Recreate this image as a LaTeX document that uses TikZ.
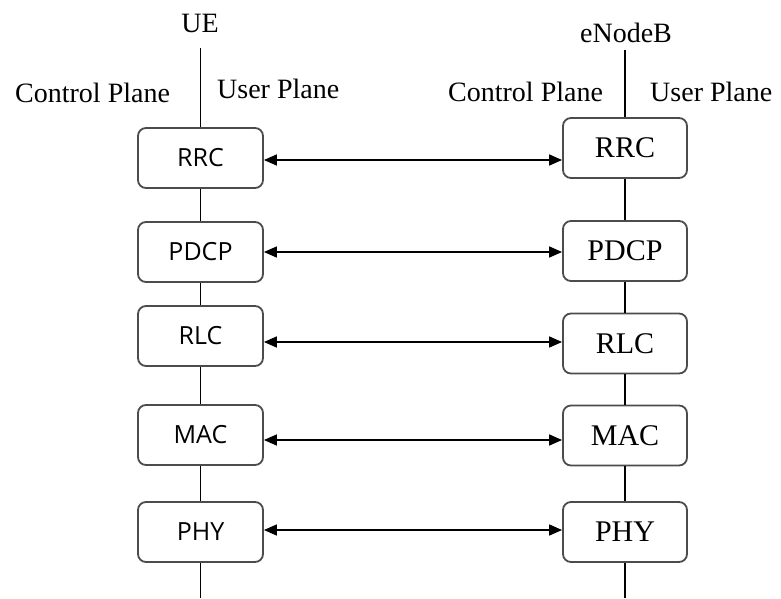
\documentclass[tikz,border=0pt]{standalone}
\usepackage{fontspec}
\setmainfont{Liberation Serif}
\newfontfamily\boxsans{Open Sans}
\usetikzlibrary{arrows.meta}
\begin{document}
\begin{tikzpicture}[x=1pt,y=-1pt,
  layerbox/.style={draw=black!70, line width=1.8pt, rounded corners=8pt, fill=white,
    minimum height=60pt, inner sep=0pt},
  lbox/.style={layerbox, minimum width=125pt, font=\boxsans\fontsize{25}{25}\selectfont},
  rbox/.style={layerbox, minimum width=124pt, font=\fontsize{30}{30}\selectfont},
  stack/.style={line width=1.5pt},
  peer/.style={line width=1.5pt, {Triangle[length=13pt,width=11pt]}-{Triangle[length=13pt,width=11pt]}},
  lbl/.style={font=\fontsize{28}{28}\selectfont, inner sep=0pt}
]
\useasboundingbox (0,0) rectangle (781,598);
% titles
\node[lbl, anchor=base] (ue) at (200,32) {UE};
\node[lbl, anchor=base] (enb) at (626,42) {eNodeB};
\node[lbl, anchor=base west] (lcp) at (15,102) {Control Plane};
\node[lbl, anchor=base west] (lup) at (217,98) {User Plane};
\node[lbl, anchor=base west] (rcp) at (448,101) {Control Plane};
\node[lbl, anchor=base west] (rup) at (650,101) {User Plane};
% UE stack
\node[lbox] (l1) at (200.5,158) {RRC};
\node[lbox] (l2) at (200.5,252) {PDCP};
\node[lbox] (l3) at (200.5,336) {RLC};
\node[lbox] (l4) at (200.5,435) {MAC};
\node[lbox] (l5) at (200.5,532) {PHY};
% eNodeB stack
\node[rbox] (r1) at (625,148) {RRC};
\node[rbox] (r2) at (625,251) {PDCP};
\node[rbox] (r3) at (625,343.5) {RLC};
\node[rbox] (r4) at (625,435.5) {MAC};
\node[rbox] (r5) at (625,532) {PHY};
% line ends
\coordinate (ueTop) at (200.5,48);
\coordinate (ueBot) at (200.5,598);
\coordinate (enbTop) at (625,50);
\coordinate (enbBot) at (625,598);
% vertical lines
\draw[stack] (ueTop) -- (l1.north);
\draw[stack] (l1.south) -- (l2.north);
\draw[stack] (l2.south) -- (l3.north);
\draw[stack] (l3.south) -- (l4.north);
\draw[stack] (l4.south) -- (l5.north);
\draw[stack] (l5.south) -- (ueBot);
\draw[stack] (enbTop) -- (r1.north);
\draw[stack] (r1.south) -- (r2.north);
\draw[stack] (r2.south) -- (r3.north);
\draw[stack] (r3.south) -- (r4.north);
\draw[stack] (r4.south) -- (r5.north);
\draw[stack] (r5.south) -- (enbBot);
% peer arrows
\draw[peer] (l1.east |- 0,160) -- (r1.west |- 0,160);
\draw[peer] (l2.east |- 0,252) -- (r2.west |- 0,252);
\draw[peer] (l3.east |- 0,342) -- (r3.west |- 0,342);
\draw[peer] (l4.east |- 0,440) -- (r4.west |- 0,440);
\draw[peer] (l5.east |- 0,530) -- (r5.west |- 0,530);
\end{tikzpicture}
\end{document}
